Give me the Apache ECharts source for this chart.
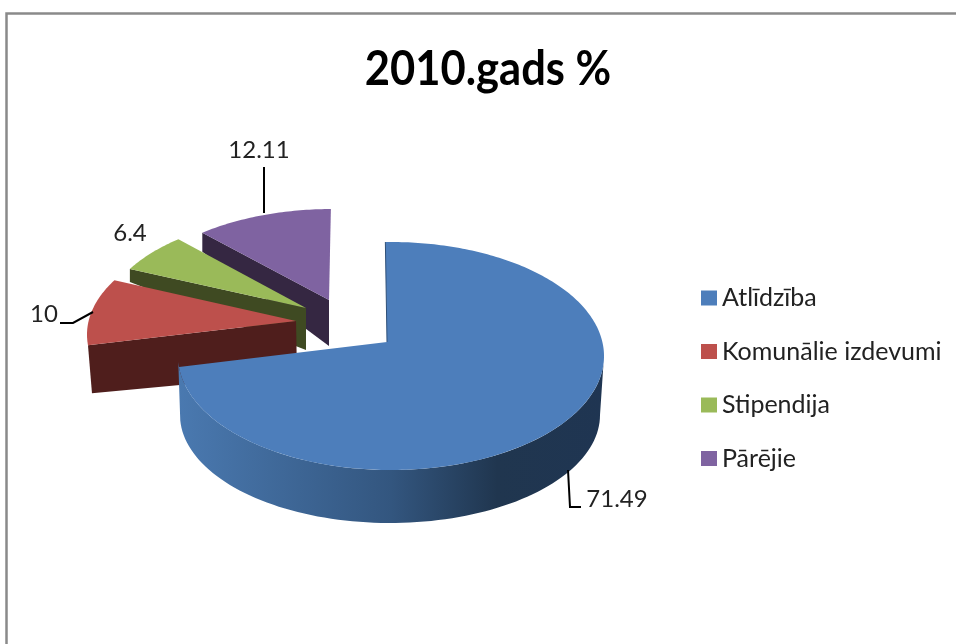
<!DOCTYPE html>
<html><head><meta charset="utf-8">
<style>html,body{margin:0;padding:0;background:#fff}#c{width:956px;height:644px}</style>
<script src="https://cdn.jsdelivr.net/npm/echarts@6/dist/echarts.min.js"></script>
</head><body><div id="c"></div>
<script>
const titleText = '2010.gads %';
const categories = ['Atlīdzība', 'Komunālie izdevumi', 'Stipendija', 'Pārējie'];
const values = [71.49, 10, 6.4, 12.11];
const topColors = ['#4d7ebb', '#bd504c', '#9aba59', '#7f63a1'];
const wallColors = [null, '#4f1e1c', '#3f4a22', '#352742'];
const FONT = 'Lato';

// 3D look of the exploded pie: where each wedge sits on the page
const wedgeLayout = [
  { apex: [387, 342], sx: 1, sy: 1, skew: [-0.5, 0] },
  { apex: [296, 321], sx: 1, sy: 0.97, skew: [0, 0], tipDrop: [4, 48], apexDrop: [1, 53] },
  { apex: [306, 308], sx: 0.97, sy: 0.93, skew: [0, 0], tipDrop: [0, 13], apexDrop: [0, 42] },
  { apex: [329, 300], sx: 0.963, sy: 0.91, skew: [0, 0.6], tipDrop: [0, 19], apexDrop: [0, 46] }
];
const BASE = { ex: 4, ey: 14, rx: 213, ry: 114 };
const labelLayout = [
  { at: [617, 499], leader: [[568, 470], [570, 507], [581, 507]] },
  { at: [44, 314], leader: [[93, 312], [73, 323], [60, 323]] },
  { at: [130, 233], leader: null },
  { at: [259, 150], leader: [[264, 213], [264, 167]] }
];

const total = values.reduce((a, b) => a + b, 0);
const rad = d => d * Math.PI / 180;
function startAngle(i) {
  let s = 0;
  for (let k = 0; k < i; k++) s += values[k];
  return s / total * 360;
}
function rim(g, deg) {
  const rx = BASE.rx * g.sx, ry = BASE.ry * g.sy;
  const ux = -BASE.ex / BASE.rx, uy = -BASE.ey / BASE.ry;
  const dx = Math.sin(rad(deg)), dy = -Math.cos(rad(deg));
  const b = ux * dx + uy * dy;
  const t = -b + Math.sqrt(b * b - (ux * ux + uy * uy) + 1);
  return [g.apex[0] + t * dx * rx, g.apex[1] + t * dy * ry];
}
function renderWedge(i) {
  return function (params, api) {
    const v = api.value(0);
    const g = wedgeLayout[i];
    const a0 = startAngle(i) + g.skew[0], a1 = startAngle(i) + v / total * 360 + g.skew[1];
    const top = [g.apex];
    const n = Math.max(8, Math.ceil(a1 - a0));
    for (let k = 0; k <= n; k++) top.push(rim(g, a0 + (a1 - a0) * k / n));
    const kids = [];
    if (i === 0) {
      const wall = [], low = [];
      const cx = g.apex[0] + BASE.ex, cy = g.apex[1] + BASE.ey;
      const tip = rim(g, a1);
      const phiEnd = Math.atan2(tip[0] - cx, -(tip[1] - cy)) + 2 * Math.PI;
      for (let k = 0; k <= 90; k++) {
        const phi = Math.PI / 2 + (phiEnd - Math.PI / 2) * k / 90;
        wall.push([cx + BASE.rx * Math.sin(phi), cy - BASE.ry * Math.cos(phi)]);
        low.unshift([390 + 210 * Math.sin(phi), 415 - 108 * Math.cos(phi)]);
      }
      kids.push({
        type: 'polygon', shape: { points: wall.concat(low) },
        style: { fill: new echarts.graphic.LinearGradient(178, 0, 604, 0, [
          { offset: 0, color: '#4a79b0' }, { offset: 0.5, color: '#33567f' },
          { offset: 0.75, color: '#20364f' }, { offset: 1, color: '#1f3552' }], true) }
      });
    } else {
      const tip = rim(g, a0);
      kids.push({
        type: 'polygon',
        shape: { points: [tip, g.apex,
          [g.apex[0] + g.apexDrop[0], g.apex[1] + g.apexDrop[1]],
          [tip[0] + g.tipDrop[0], tip[1] + g.tipDrop[1]]] },
        style: { fill: wallColors[i] }
      });
    }
    kids.push({ type: 'polygon', shape: { points: top }, style: { fill: topColors[i] } });
    if (i === 0) {
      kids.push({ type: 'polyline', shape: { points: [rim(g, a0), g.apex] },
        style: { stroke: '#2f5078', lineWidth: 1, fill: null } });
    }
    const lab = labelLayout[i];
    if (lab.leader) {
      kids.push({ type: 'polyline', shape: { points: lab.leader },
        style: { stroke: '#000', lineWidth: 2, fill: null } });
    }
    kids.push({ type: 'text', style: {
      text: String(v), x: lab.at[0], y: lab.at[1], align: 'center', verticalAlign: 'middle',
      fontFamily: FONT, fontSize: 24, fill: '#222' } });
    return { type: 'group', children: kids };
  };
}
// Painted back to front, as in the picture
const paintOrder = [3, 2, 1, 0];
const chart = echarts.init(document.getElementById('c'), null, { renderer: 'canvas' });
chart.setOption({
  animation: false,
  backgroundColor: '#fff',
  legend: { orient: 'vertical', left: 696, top: 280.5, itemWidth: 16, itemHeight: 15, itemGap: 28.5, icon: 'rect',
    data: categories, selectedMode: false,
    textStyle: { fontFamily: FONT, fontSize: 25, color: '#222' } },
  graphic: [
    { type: 'polyline', silent: true,
      shape: { points: [[6.5, 644], [6.5, 13.5], [956, 13.5]] },
      style: { stroke: '#8a8a8a', lineWidth: 2.5, fill: null } },
    { type: 'text', silent: true, x: 488, y: 70, scaleX: 0.907, originX: 0, originY: 0,
      style: { text: titleText, x: 0, y: 0, align: 'center', verticalAlign: 'middle',
        fontFamily: FONT, fontWeight: 'bold', fontSize: 48, fill: '#000' } }
  ],
  series: paintOrder.map(i => ({
    type: 'custom', name: categories[i], coordinateSystem: 'none', silent: true,
    itemStyle: { color: topColors[i] },
    data: [[values[i]]], renderItem: renderWedge(i)
  }))
});
</script></body></html>
